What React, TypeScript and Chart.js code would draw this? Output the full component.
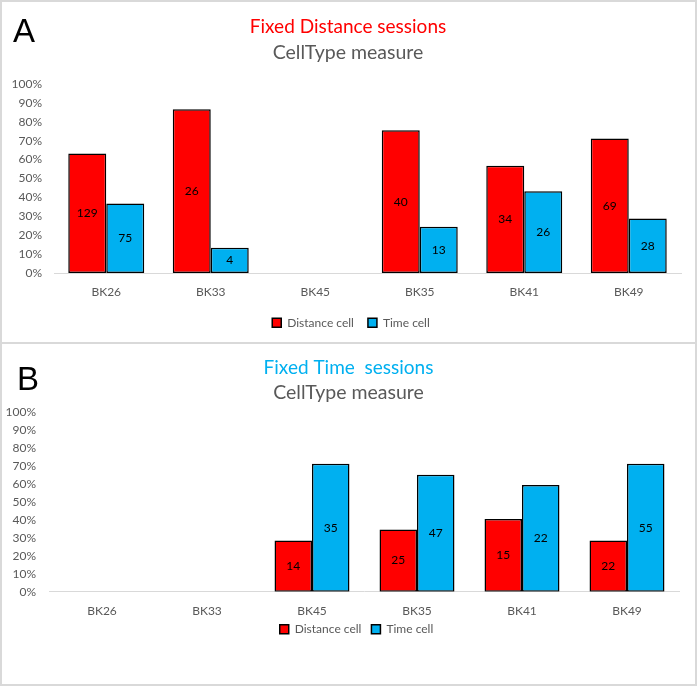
import React, { useEffect, useRef } from 'react';
import { Chart, registerables } from 'chart.js';

Chart.register(...registerables);

// ---------- data ----------
const categories = ['BK26', 'BK33', 'BK45', 'BK35', 'BK41', 'BK49'];
const seriesNames = ['Distance cell', 'Time cell'];

// Panel A – Fixed Distance sessions (percent of cells)
const distancePctA = [63.2, 86.7, null, 75.5, 56.7, 71.1];
const timePctA = [36.8, 13.3, null, 24.5, 43.3, 28.9];
// cell counts written inside the bars
const distanceCountA = [129, 26, null, 40, 34, 69];
const timeCountA = [75, 4, null, 13, 26, 28];

// Panel B – Fixed Time sessions (percent of cells)
const distancePctB = [null, null, 28.6, 34.7, 40.5, 28.6];
const timePctB = [null, null, 71.4, 65.3, 59.5, 71.4];
const distanceCountB = [null, null, 14, 25, 15, 22];
const timeCountB = [null, null, 35, 47, 22, 55];

const yMin = 0;
const yMax = 100;
const yStep = 10;

const titleA = 'Fixed Distance sessions';
const titleB = 'Fixed Time  sessions';
const subtitleText = 'CellType measure';

// ---------- styling ----------
const FONT = 'Lato, "Noto Sans", sans-serif';
const RED = '#ff0000';
const BLUE = '#00b0f0';
const GREY = '#595959';

const countLabels = {
  id: 'countLabels',
  afterDatasetsDraw(chart: any, _args: any, opts: any) {
    const ctx = chart.ctx;
    ctx.save();
    ctx.font = `${opts.size}px ${FONT}`;
    ctx.fillStyle = '#000';
    ctx.textAlign = 'center';
    ctx.textBaseline = 'middle';
    chart.data.datasets.forEach((ds: any, di: number) => {
      const meta = chart.getDatasetMeta(di);
      const counts = opts.counts[di];
      meta.data.forEach((el: any, i: number) => {
        const c = counts[i];
        if (c == null || ds.data[i] == null) return;
        const { x, y, base } = el.getProps(['x', 'y', 'base'], true);
        ctx.fillText(String(c), x, (y + base) / 2);
      });
    });
    ctx.restore();
  },
};

// nudges the title blocks and the legend after layout
const boxShift = {
  id: 'boxShift',
  afterLayout(chart: any, _args: any, opts: any) {
    chart.boxes.forEach((b: any) => {
      if (b.axis) return;
      if (b === chart.legend) {
        b.left += opts.legendDx || 0;
        b.right += opts.legendDx || 0;
        b.top += opts.legendDy || 0;
        b.bottom += opts.legendDy || 0;
      } else if (b.position === 'top') {
        b.left += opts.titleDx || 0;
        b.right += opts.titleDx || 0;
      }
    });
  },
};

type Spec = {
  dist: (number | null)[];
  time: (number | null)[];
  distCount: (number | null)[];
  timeCount: (number | null)[];
  title: string;
  titleColor: string;
  titleSize: number;
  titlePadTop: number;
  subSize: number;
  subPadTop: number;
  subPadBottom: number;
  catPct: number;
  pr: number;
  pb: number;
  yW: number;
  yPad: number;
  xH: number;
  xPad: number;
  legendPad: number;
  titleDx: number;
  legendDx: number;
  legendDy: number;
};

function buildConfig(p: Spec): any {
  const ds = (label: string, data: (number | null)[], color: string) => ({
    label,
    data,
    backgroundColor: color,
    borderColor: '#000',
    borderWidth: 1.5,
    borderSkipped: false,
    barPercentage: 1,
    categoryPercentage: p.catPct,
  });
  return {
    type: 'bar',
    data: {
      labels: categories,
      datasets: [ds(seriesNames[0], p.dist, RED), ds(seriesNames[1], p.time, BLUE)],
    },
    options: {
      responsive: false,
      animation: false,
      layout: { padding: { left: 0, right: p.pr, top: 0, bottom: p.pb } },
      scales: {
        x: {
          grid: { display: false, drawTicks: false },
          border: { display: true, color: '#d9d9d9', width: 1 },
          ticks: { color: GREY, font: { family: FONT, size: 12 }, padding: p.xPad },
          afterFit: (s: any) => {
            s.height = p.xH;
          },
        },
        y: {
          min: yMin,
          max: yMax,
          grid: { display: false, drawTicks: false },
          border: { display: false },
          ticks: {
            stepSize: yStep,
            color: GREY,
            font: { family: FONT, size: 12 },
            padding: p.yPad,
            callback: (v: any) => `${v}%`,
          },
          afterFit: (s: any) => {
            s.width = p.yW;
          },
        },
      },
      plugins: {
        title: {
          display: true,
          text: p.title,
          color: p.titleColor,
          font: { family: FONT, size: p.titleSize, weight: 'normal', lineHeight: 1.2 },
          padding: { top: p.titlePadTop, bottom: 0 },
        },
        subtitle: {
          display: true,
          text: subtitleText,
          color: GREY,
          font: { family: FONT, size: p.subSize, weight: 'normal', lineHeight: 1.2 },
          padding: { top: p.subPadTop, bottom: p.subPadBottom },
        },
        legend: {
          position: 'bottom',
          labels: {
            boxWidth: 9,
            boxHeight: 9,
            padding: p.legendPad,
            color: GREY,
            font: { family: FONT, size: 12 },
          },
        },
        tooltip: { enabled: false },
        countLabels: { counts: [p.distCount, p.timeCount], size: 12 },
        boxShift: { titleDx: p.titleDx, legendDx: p.legendDx, legendDy: p.legendDy },
      },
    },
    plugins: [countLabels, boxShift],
  };
}

const specA: Spec = {
  dist: distancePctA,
  time: timePctA,
  distCount: distanceCountA,
  timeCount: timeCountA,
  title: titleA,
  titleColor: RED,
  titleSize: 19,
  titlePadTop: 15,
  subSize: 19.5,
  subPadTop: 3,
  subPadBottom: 19.8,
  catPct: 0.727,
  pr: 16,
  pb: 4.3,
  yW: 54,
  yPad: 12,
  xH: 29.7,
  xPad: 11.5,
  legendPad: 14,
  titleDx: 7.5,
  legendDx: 10.5,
  legendDy: 0,
};

const specB: Spec = {
  dist: distancePctB,
  time: timePctB,
  distCount: distanceCountB,
  timeCount: timeCountB,
  title: titleB,
  titleColor: BLUE,
  titleSize: 19,
  titlePadTop: 12.6,
  subSize: 19.5,
  subPadTop: 1.2,
  subPadBottom: 8.5,
  catPct: 0.714,
  pr: 17.5,
  pb: 35.8,
  yW: 49.5,
  yPad: 13.5,
  xH: 26.5,
  xPad: 12.1,
  legendPad: 10,
  titleDx: 8.75,
  legendDx: 16.75,
  legendDy: -5,
};

function Panel({ spec, top, height, letter, letterLeft, letterTop }: any) {
  const ref = useRef<HTMLCanvasElement>(null);
  useEffect(() => {
    if (!ref.current) return;
    const chart = new Chart(ref.current, buildConfig(spec));
    return () => chart.destroy();
  }, [spec]);
  return (
    <div style={{ position: 'absolute', left: 0, top, width: 697, height }}>
      <canvas
        ref={ref}
        width={697}
        height={height}
        style={{ position: 'absolute', left: 0, top: 0, width: 697, height }}
      />
      <div
        style={{
          position: 'absolute',
          left: letterLeft,
          top: letterTop,
          fontFamily: '"Liberation Sans", Arial, sans-serif',
          fontSize: 33,
          lineHeight: '33px',
          color: '#000',
        }}
      >
        {letter}
      </div>
    </div>
  );
}

export default function App() {
  return (
    <div style={{ position: 'absolute', left: 0, top: 0, width: 697, height: 686, background: '#fff' }}>
      <Panel spec={specA} top={0} height={343} letter="A" letterLeft={13} letterTop={14} />
      <Panel spec={specB} top={344} height={342} letter="B" letterLeft={17} letterTop={18} />
      <div
        style={{
          position: 'absolute',
          left: 0,
          top: 0,
          width: 697,
          height: 344,
          boxSizing: 'border-box',
          border: '2px solid #d9d9d9',
          pointerEvents: 'none',
        }}
      />
      <div
        style={{
          position: 'absolute',
          left: 0,
          top: 342,
          width: 697,
          height: 344,
          boxSizing: 'border-box',
          border: '2px solid #d9d9d9',
          pointerEvents: 'none',
        }}
      />
    </div>
  );
}
